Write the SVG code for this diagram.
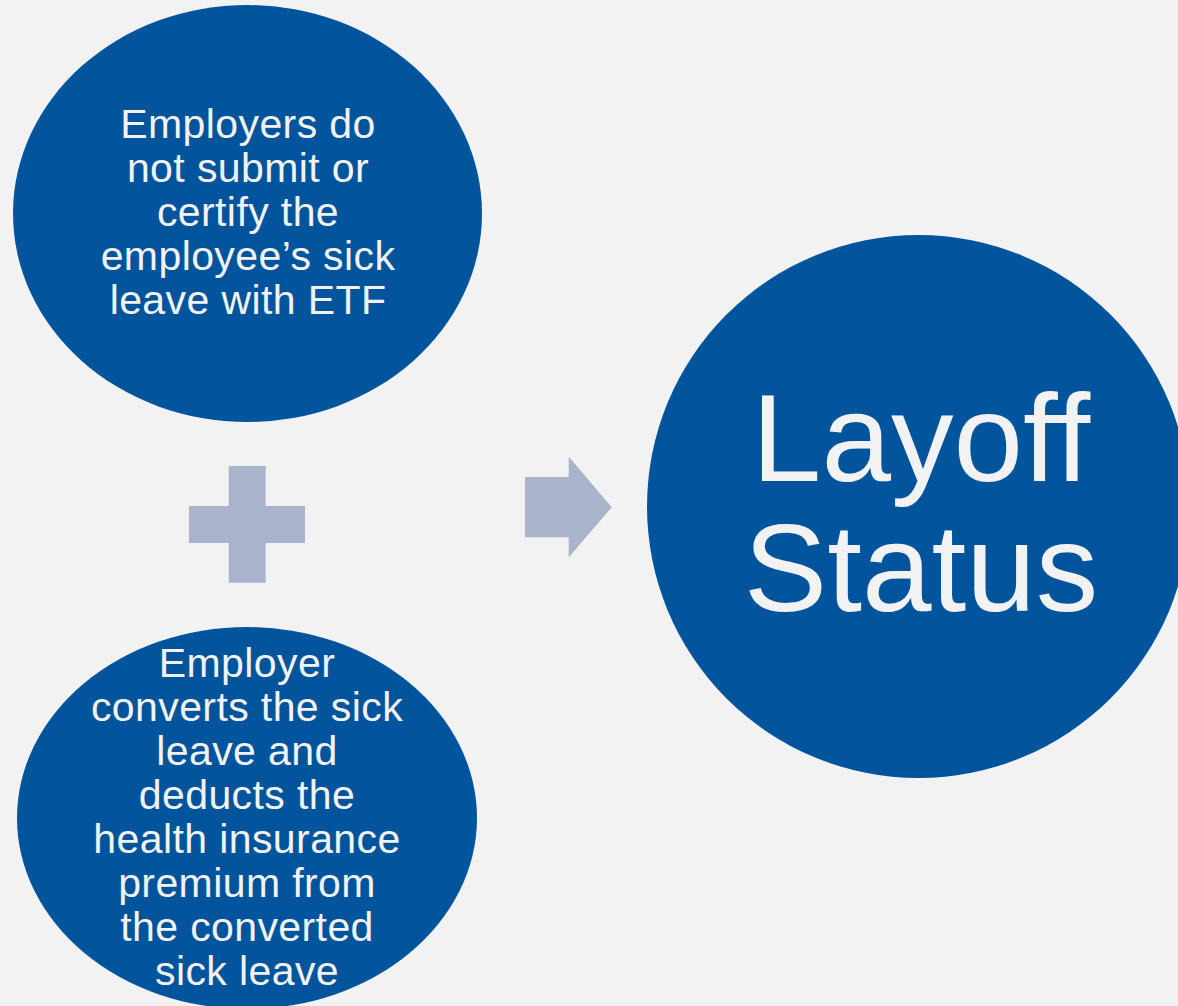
<svg xmlns="http://www.w3.org/2000/svg" width="1178" height="1006" viewBox="0 0 1178 1006">
  <style>
    .node { fill: #02559D; }
    .sym { fill: #A9B3CB; }
    .lbl { fill: #F2F2F2; font-family: "Liberation Sans", Arial, sans-serif; text-anchor: middle; }
    .small { font-size: 41px; letter-spacing: 0.4px; }
    .big { font-size: 125px; }
  </style>
  <rect x="0" y="0" width="1178" height="1006" fill="#F2F2F2"/>
  <g id="node-top">
    <ellipse class="node" cx="247.5" cy="213.5" rx="234.5" ry="208.5"/>
    <text class="lbl small" x="248" y="138">Employers do</text>
    <text class="lbl small" x="248" y="182">not submit or</text>
    <text class="lbl small" x="248" y="226">certify the</text>
    <text class="lbl small" x="248" y="269.5">employee’s sick</text>
    <text class="lbl small" x="248" y="313.5">leave with ETF</text>
  </g>
  <g id="node-bottom">
    <ellipse class="node" cx="247" cy="818" rx="230" ry="191"/>
    <text class="lbl small" x="247" y="677">Employer</text>
    <text class="lbl small" x="247" y="720.5">converts the sick</text>
    <text class="lbl small" x="247" y="764.5">leave and</text>
    <text class="lbl small" x="247" y="808.5">deducts the</text>
    <text class="lbl small" x="247" y="852.5">health insurance</text>
    <text class="lbl small" x="247" y="896.5">premium from</text>
    <text class="lbl small" x="247" y="941">the converted</text>
    <text class="lbl small" x="247" y="985">sick leave</text>
  </g>
  <g id="node-plus">
    <path class="sym" d="M228.7,466 H265.7 V506 H305 V543 H265.7 V582.7 H228.7 V543 H189 V506 H228.7 Z"/>
  </g>
  <g id="connectors">
    <path class="sym" d="M525,477 H568.7 V456.7 L611.7,507.3 L568.7,557.3 V537.3 H525 Z"/>
  </g>
  <g id="node-result">
    <circle class="node" cx="918.5" cy="506.5" r="271.5"/>
    <text class="lbl big" x="921" y="480.5">Layoff</text>
    <text class="lbl big" x="921" y="610.5">Status</text>
  </g>
</svg>
